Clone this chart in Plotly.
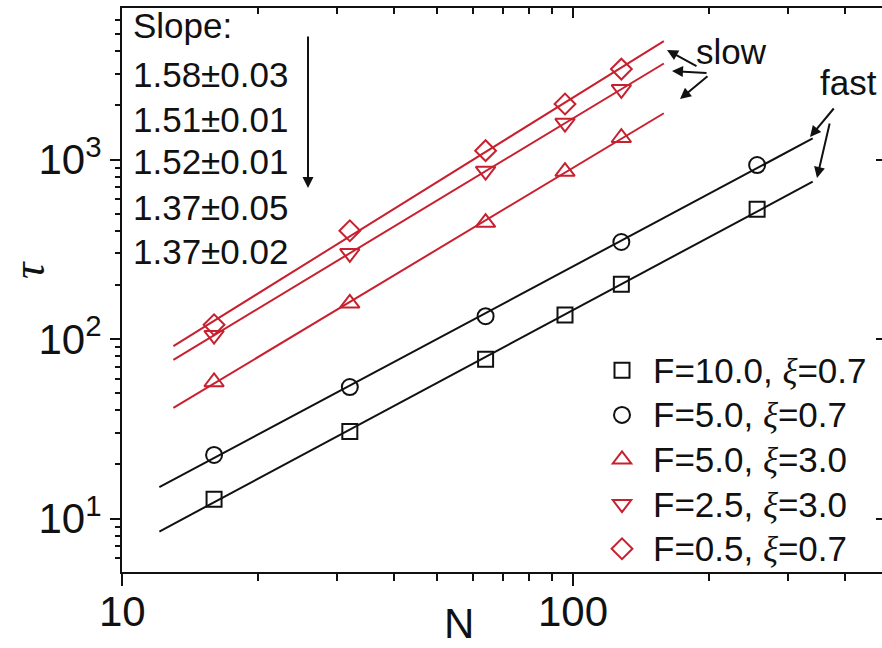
import numpy as np
import plotly.graph_objects as go

# ---------------- data ----------------
N_sq = [16, 32, 64, 96, 128, 256]
tau_sq = [12.8, 30.5, 77, 136, 202, 528]
N_ci = [16, 32, 64, 128, 256]
tau_ci = [22.6, 54, 134, 347, 931]
N_red = [16, 32, 64, 96, 128]
tau_up = [57.6, 158, 445, 857, 1322]
tau_dn = [105, 300, 862, 1596, 2460]
tau_di = [120, 401, 1120, 2037, 3190]
fit_N_black = [12.1, 340]
fit_N_red = [13.0, 159]

names = ["F=10.0, ξ=0.7", "F=5.0, ξ=0.7", "F=5.0, ξ=3.0", "F=2.5, ξ=3.0", "F=0.5, ξ=0.7"]
slope_texts = ["1.58±0.03", "1.51±0.01", "1.52±0.01", "1.37±0.05", "1.37±0.02"]
x_tickvals = [10, 100]
x_ticktext = ["10", "100"]
y_tickvals = [10, 100, 1000]
y_ticktext = ["10<sup>1</sup>", "10<sup>2</sup>", "10<sup>3</sup>"]

BLACK = "#111111"
RED = "#c8202f"
FONT = "Liberation Sans, Arial, sans-serif"
SERIF = "Liberation Serif, Times New Roman, serif"

W, H = 882, 648
ML, MR, MT, MB = 122, 0, 8, 76
PW, PH = W - ML - MR, H - MT - MB
XR = [1.0, 1.0 + PW / 451.0]
YR = [3.0 - (H - MB - 159.5) / 179.5, 3.0 + (159.5 - MT) / 179.5]


def fmt(name):
    txt = name.replace("ξ", '<span style="font-family:%s"><i>ξ</i></span>' % SERIF)
    return '<span style="font-size:35px">%s</span>' % txt


def fit_line(N, tau, rng):
    p = np.polyfit(np.log10(N), np.log10(tau), 1)
    xs = np.array(rng, dtype=float)
    return xs, 10 ** np.polyval(p, np.log10(xs))


series = [
    (N_sq, tau_sq, "square-open", BLACK, 15, fit_N_black),
    (N_ci, tau_ci, "circle-open", BLACK, 16, fit_N_black),
    (N_red, tau_up, "triangle-up-open", RED, 17, fit_N_red),
    (N_red, tau_dn, "triangle-down-open", RED, 17, fit_N_red),
    (N_red, tau_di, "diamond-open", RED, 16, fit_N_red),
]

fig = go.Figure()
for (N, tau, sym, col, sz, rng), nm in zip(series, names):
    fx, fy = fit_line(N, tau, rng)
    fig.add_trace(go.Scatter(x=fx, y=fy, mode="lines", line=dict(color=col, width=2),
                             showlegend=False, hoverinfo="skip"))
for (N, tau, sym, col, sz, rng), nm in zip(series, names):
    fig.add_trace(go.Scatter(x=N, y=tau, mode="markers", name=fmt(nm),
                             marker=dict(symbol=sym, size=sz, color=col,
                                         line=dict(color=col, width=2))))

# invisible trace for mirrored axes
fig.add_trace(go.Scatter(x=[20], y=[20], xaxis="x2", yaxis="y2", mode="markers",
                         marker=dict(opacity=0), showlegend=False, hoverinfo="skip"))

x_minor = [20, 30, 40, 50, 60, 70, 80, 90, 200, 300, 400]
y_minor = [6, 7, 8, 9, 20, 30, 40, 50, 60, 70, 80, 90, 200, 300, 400, 500, 600, 700, 800, 900,
           2000, 3000, 4000, 5000, 6000, 7000]

axis_common = dict(type="log", showgrid=False, zeroline=False, linecolor=BLACK, linewidth=2,
                   tickcolor=BLACK, tickwidth=2)

fig.update_layout(
    width=W, height=H,
    margin=dict(l=ML, r=MR, t=MT, b=MB, pad=0, autoexpand=False),
    paper_bgcolor="white", plot_bgcolor="white",
    font=dict(family=FONT, color=BLACK),
    xaxis=dict(**axis_common, range=XR, showline=True, ticks="outside", ticklen=12,
               tickvals=x_tickvals, showticklabels=False,
               minor=dict(tickvals=x_minor, ticks="outside", ticklen=7, tickwidth=2, tickcolor=BLACK)),
    yaxis=dict(**axis_common, range=YR, showline=True, ticks="outside", ticklen=10,
               tickvals=y_tickvals, ticktext=y_ticktext, tickfont=dict(size=42),
               minor=dict(tickvals=y_minor, ticks="outside", ticklen=5, tickwidth=2, tickcolor=BLACK)),
    xaxis2=dict(**axis_common, range=XR, overlaying="x", side="top", showline=True,
                ticks="inside", ticklen=10, tickvals=x_tickvals, showticklabels=False,
                minor=dict(tickvals=x_minor, ticks="inside", ticklen=6, tickwidth=2, tickcolor=BLACK)),
    yaxis2=dict(**axis_common, range=YR, overlaying="y", side="right", showline=False,
                ticks="inside", ticklen=6, tickvals=y_tickvals, showticklabels=False),
    legend=dict(x=(591 - ML) / PW, y=(H - MB - 343) / PH, xanchor="left", yanchor="top",
                bgcolor="rgba(0,0,0,0)", font=dict(size=32, family=FONT, color=BLACK),
                itemwidth=52, tracegroupgap=0),
    showlegend=True,
)


def px(xp):
    return (xp - ML) / PW


def py(yp):
    return (H - MB - yp) / PH


ann = []
# x tick labels, placed on the log axis through its own coordinates
for v, t in zip(x_tickvals, x_ticktext):
    ann.append(dict(x=np.log10(v), xref="x", y=py(611), yref="paper", text=t, showarrow=False,
                    xanchor="center", yanchor="middle", font=dict(size=42, family=FONT, color=BLACK)))

# Slope text block
txt = [dict(x=px(131), y=py(26), text="Slope:")]
for t, yy in zip(slope_texts, [75, 120, 161, 207, 251]):
    txt.append(dict(x=px(131), y=py(yy), text=t))
for a in txt:
    a.update(xref="paper", yref="paper", showarrow=False, xanchor="left", yanchor="middle",
             font=dict(size=35, family=FONT, color=BLACK))
ann += txt

# slow / fast labels
ann.append(dict(x=px(731), y=py(51), text="slow", xref="paper", yref="paper", showarrow=False,
                xanchor="center", yanchor="middle", font=dict(size=35, family=FONT, color=BLACK)))
ann.append(dict(x=px(848), y=py(82), text="fast", xref="paper", yref="paper", showarrow=False,
                xanchor="center", yanchor="middle", font=dict(size=35, family=FONT, color=BLACK)))

# arrows: (head x, head y, tail dx, tail dy)
arrows = [(308, 188, 0, -153), (667, 50, 31, 17), (672, 71, 36, 2), (680, 99, 29, -24),
          (810, 137, 25, -30), (817, 178, 13, -56)]
for hx, hy, dx, dy in arrows:
    ann.append(dict(x=px(hx), y=py(hy), ax=dx, ay=dy, xref="paper", yref="paper", text="",
                    showarrow=True, arrowhead=2, arrowsize=1.1, arrowwidth=2, arrowcolor=BLACK,
                    standoff=0, startstandoff=0))

# axis titles
ann.append(dict(x=px(459), y=py(623), text="N", xref="paper", yref="paper", showarrow=False,
                xanchor="center", yanchor="middle", font=dict(size=42, family=FONT, color=BLACK)))
ann.append(dict(x=px(29), y=py(270), text="<i>τ</i>", xref="paper", yref="paper", showarrow=False,
                xanchor="center", yanchor="middle", textangle=-90,
                font=dict(size=46, family=SERIF, color=BLACK)))

fig.update_layout(annotations=ann)
fig.write_html("out.html", config={"displayModeBar": False},
               post_script="document.body.style.margin='0';")
